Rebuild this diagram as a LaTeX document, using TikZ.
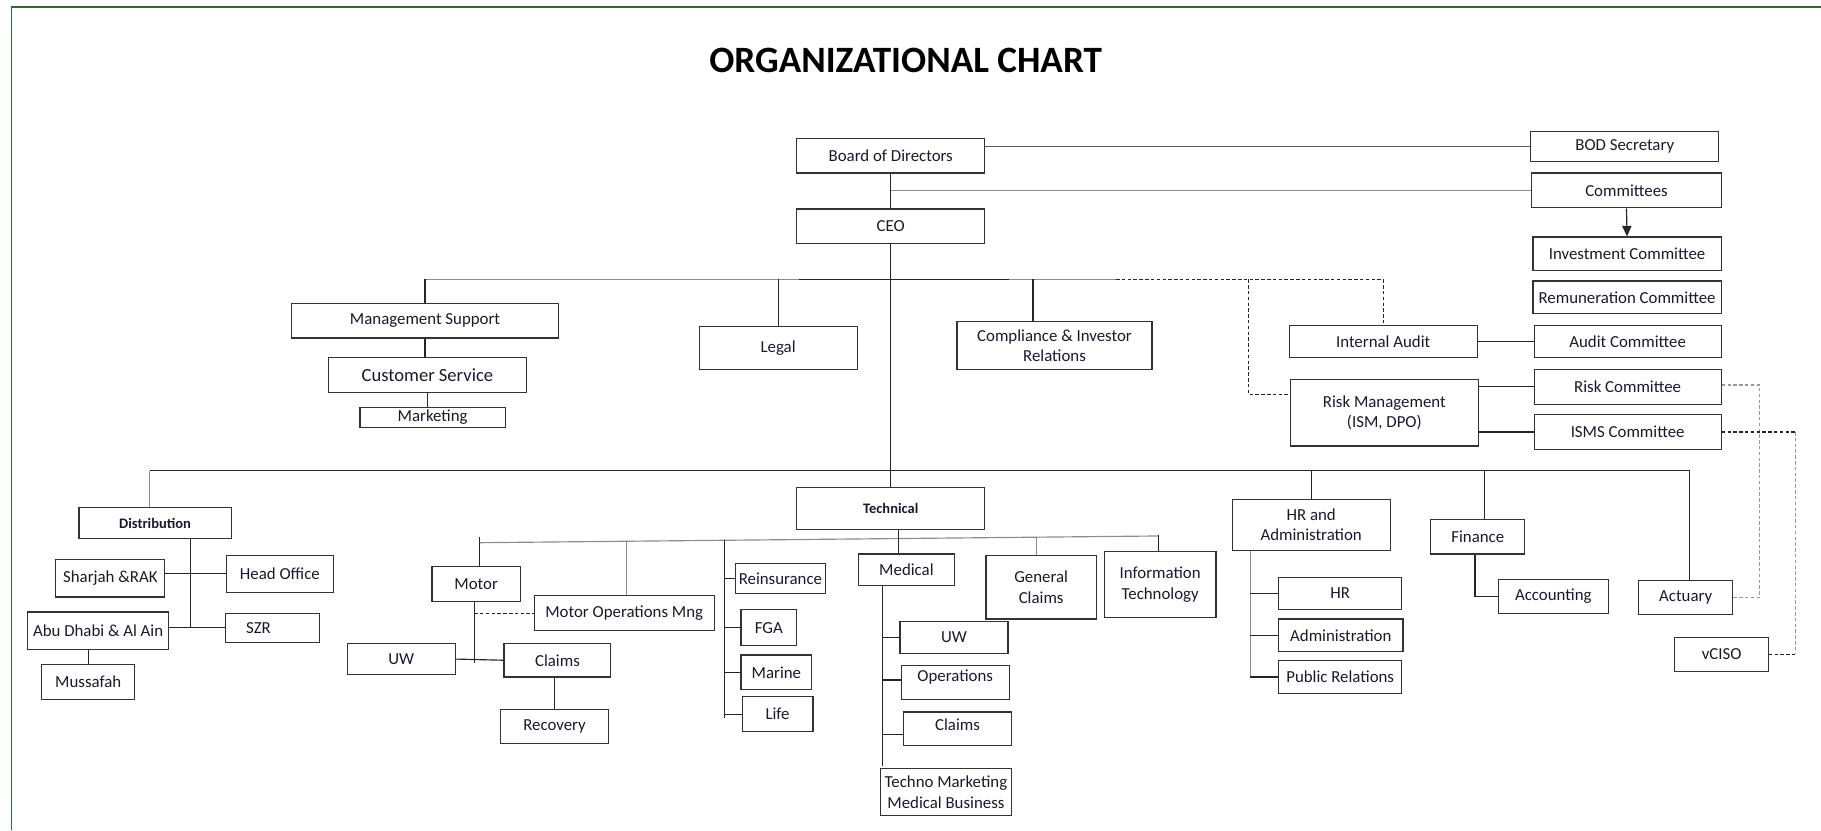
\documentclass[tikz,border=0pt]{standalone}
\usepackage{fontspec}
\setmainfont{Carlito}
\usetikzlibrary{arrows.meta}
\definecolor{txt}{RGB}{25,25,45}
\definecolor{framegreen}{RGB}{36,115,48}
\newcommand\obox[7][]{\node[box,minimum width={(#5-#3)*1pt},minimum height={(#6-#4)*1pt},#1] (#2) at ({(#3+#5)/2},{(#4+#6)/2}) {#7};}
\tikzset{
  box/.style={draw=black!80, line width=1pt, inner sep=0pt, align=center, text=txt,
    font=\fontsize{14.5}{17.5}\selectfont},
  boldbox/.style={font=\fontsize{12.5}{15}\selectfont\bfseries},
  conn/.style={draw=black!85, line width=1pt},
  gconn/.style={draw=black!45, line width=1pt},
  dconn/.style={draw=black!85, line width=1pt, dash pattern=on 3pt off 2pt},
  gdconn/.style={draw=black!40, line width=1pt, dash pattern=on 3pt off 2pt},
}
\begin{document}
\begin{tikzpicture}[x=1pt,y=-1pt]
\useasboundingbox (0,0) rectangle (1568,715);
\draw[framegreen, line width=1.5pt] (10,715) -- (10,6) -- (1568,6);

\node[font=\fontsize{32}{36}\selectfont\bfseries, text=black] (title) at (779.8,52) {ORGANIZATIONAL CHART};

% top level
\obox{bod}{686}{119}{848}{149}{Board of Directors}
\obox{ceo}{686}{180}{848}{210}{CEO}
\obox{bodsec}{1318}{113}{1480}{139}{BOD Secretary}
\obox{comm}{1319}{149}{1482}{179}{Committees}
\obox{invc}{1320}{204}{1482}{233}{Investment Committee}
\obox{remc}{1320}{242}{1482}{270}{Remuneration Committee}
\obox{audc}{1321}{280}{1482}{308}{Audit Committee}
\obox{riskc}{1321}{318}{1482}{348}{Risk Committee}
\obox{ismsc}{1321}{357}{1482}{387}{ISMS Committee}
\obox{ia}{1110}{280}{1272}{308}{Internal Audit}
\obox{rm}{1111}{327}{1273}{384}{Risk Management\\(ISM, DPO)}
\obox{ms}{251}{261}{481}{291}{Management Support}
\obox[font=\fontsize{16}{19}\selectfont]{cs}{283}{308}{453}{338}{Customer Service}
\obox{mkt}{310}{351}{435}{368}{Marketing}
\obox{legal}{602}{281}{738}{318}{Legal}
\obox{comp}{824}{277}{992}{318}{Compliance \& Investor\\Relations}

% second level
\obox[boldbox]{dist}{68}{437}{199}{464}{Distribution}
\obox[boldbox]{tech}{686}{420}{848}{456}{Technical}
\obox{hra}{1061}{430}{1197}{474}{HR and\\Administration}
\obox{fin}{1232}{447}{1313}{477}{Finance}
\obox{act}{1411}{500}{1492}{529}{Actuary}
\obox{acc}{1290}{499}{1385}{528}{Accounting}
\obox{vciso}{1442}{549}{1523}{578}{vCISO}
\obox{hr}{1101}{497}{1207}{525}{HR}
\obox{adm}{1101}{533}{1208}{561}{Administration}
\obox{pr}{1101}{569}{1207}{597}{Public Relations}

% distribution
\obox{shj}{48}{482}{142}{514}{Sharjah \&RAK}
\obox{ho}{195}{478}{287}{510}{Head Office}
\obox{ad}{24}{527}{145}{559}{Abu Dhabi \& Al Ain}
\obox{szr}{194}{528}{275}{553}{SZR\hspace{24pt}}
\obox{muss}{36}{572}{116}{602}{Mussafah}

% technical
\obox{motor}{372}{488}{448}{518}{Motor}
\obox{mops}{460}{513}{615}{543}{Motor Operations Mng}
\obox{muw}{299}{554}{392}{581}{UW}
\obox{mcl}{434}{554}{526}{583}{Claims}
\obox{rec}{431}{611}{524}{640}{Recovery}
\obox{reins}{633}{485}{711}{511}{Reinsurance}
\obox{fga}{638}{525}{686}{556}{FGA}
\obox{marine}{638}{564}{699}{594}{Marine}
\obox{life}{639}{600}{700}{630}{Life}
\obox{med}{739}{477}{822}{504}{Medical}
\obox{gcl}{849}{478}{944}{533}{General\\Claims}
\obox{it}{951}{475}{1047}{532}{Information\\Technology}
\obox{muw2}{775}{535}{868}{563}{UW}
\obox[text height=10pt,text depth=12pt]{ops}{776}{573}{869}{602}{Operations}
\obox[text height=10pt,text depth=7pt]{mcl2}{778}{613}{871}{642}{Claims}
\obox{tmk}{758}{662}{871}{702}{Techno Marketing\\Medical Business}

% ---------- connectors ----------
\coordinate (l1) at (0,240.5);
\coordinate (dsh) at (961,240.5);
\coordinate (blk1) at (688,240.5);
\coordinate (blk2) at (869,240.5);
\coordinate (cj) at (889.5,240.5);
\coordinate (rj) at (1075,339.5);

\draw[conn] (bod.south) -- (ceo.north);
\draw[draw=black!65, line width=1pt] (bod.east |- bodsec.west) -- (bodsec.west);
\draw[gconn] (bod.south |- comm.west) -- (comm.west);
\draw[conn, -{Triangle[length=9pt,width=8pt]}] (comm.south) -- (invc.north);
\draw[conn] (ia.east) -- (audc.west);
\draw[conn] (rm.east |- riskc.west) -- (riskc.west);
\draw[conn] (rm.east |- ismsc.west) -- (ismsc.west);

% first horizontal bar
\draw[gconn] (ms.north |- l1) -- (dsh);
\draw[conn] (blk1) -- (blk2);
\draw[dconn] (dsh) -- (ia.north |- l1) -- (ia.north);
\draw[conn] (ms.north |- l1) -- (ms.north);
\draw[conn] (legal.north |- l1) -- (legal.north);
\draw[conn] (cj) -- (cj |- comp.north);
\draw[dconn] (rj |- l1) -- (rj) -- (rj -| rm.west);
\draw[conn] (ms.south) -- (ms.south |- cs.north);
\draw[conn] (cs.south) -- (cs.south |- mkt.north);

% CEO spine and second bar
\coordinate (d2) at (129,405.3);
\coordinate (aj) at (1455,405.3);
\coordinate (fj) at (1278,405.3);
\draw[conn] (ceo.south) -- (tech.north);
\draw[conn] (d2) -- (aj) -- (aj |- act.north);
\draw[gconn] (d2) -- (d2 |- dist.north);
\draw[conn] (hra.north |- d2) -- (hra.north);
\draw[conn] (fj) -- (fj |- fin.north);

% distribution subtree
\coordinate (dv) at (163.8,540.5);
\draw[conn] (dv |- dist.south) -- (dv);
\draw[conn] (shj.east |- ho.west) -- (ho.west);
\draw[conn] (ad.east |- szr.west) -- (szr.west);
\draw[conn] (muss.north) -- (muss.north |- ad.south);

% technical bar
\coordinate (tl) at (412.6,467.3);
\coordinate (tr) at (997.7,461.5);
\coordinate (mj) at (412.6,462);
\coordinate (oj) at (539.7,466);
\coordinate (rv) at (624.1,465.2);
\coordinate (rvb) at (624.1,618);
\coordinate (tm) at (773.3,463.7);
\coordinate (gj) at (892.3,462.5);
\coordinate (ij) at (997.7,460.4);
\draw[gconn] (tl) -- (tr);
\draw[conn] (mj) -- (mj |- motor.north);
\draw[gconn] (oj) -- (oj |- mops.north);
\draw[conn] (rv) -- (rvb);
\draw[conn] (rv |- reins.west) -- (reins.west);
\draw[conn] (rv |- fga.west) -- (fga.west);
\draw[conn] (rv |- marine.west) -- (marine.west);
\draw[conn] (rv |- life.west) -- (life.west);
\draw[conn] (tm |- tech.south) -- (tm |- med.north);
\draw[gconn] (gj) -- (gj |- gcl.north);
\draw[conn] (ij) -- (ij |- it.north);

% motor subtree
\coordinate (mv) at (408.3,570.6);
\draw[conn] (mv |- motor.south) -- (mv);
\draw[dconn] (mv |- mops.west) -- (mops.west);
\draw[conn] (muw.east) -- (mcl.west);
\draw[conn] (rec.north |- mcl.south) -- (rec.north);

% medical subtree
\coordinate (mdv) at (759.8,659.3);
\coordinate (opsb) at ([yshift=2pt]ops.west);
\coordinate (mclb) at ([yshift=-5pt]mcl2.west);
\draw[conn] (mdv |- med.south) -- (mdv);
\draw[conn] (mdv |- muw2.west) -- (muw2.west);
\draw[conn] (mdv |- opsb) -- (opsb);
\draw[conn] (mdv |- mclb) -- (mclb);

% HR subtree
\coordinate (hv) at (1076.6,581.8);
\draw[gconn] (hv |- hra.south) -- (hv);
\draw[conn] (hv |- hr.west) -- (hr.west);
\draw[conn] (hv |- adm.west) -- (adm.west);
\draw[conn] (hv |- pr.west) -- (pr.west);

% finance
\coordinate (fa) at (1270,514);
\draw[conn] (fa |- fin.south) -- (fa |- acc.west) -- (acc.west);

% right dashed links
\coordinate (rd) at (1515,331.5);
\coordinate (id) at (1546,372);
\draw[gdconn] (riskc.east |- rd) -- (rd) -- (rd |- act.east) -- (act.east);
\draw[dconn] (ismsc.east |- id) -- (id);
\draw[gdconn] (id) -- (id |- vciso.east);
\draw[dconn] (id |- vciso.east) -- (vciso.east);
\end{tikzpicture}
\end{document}
